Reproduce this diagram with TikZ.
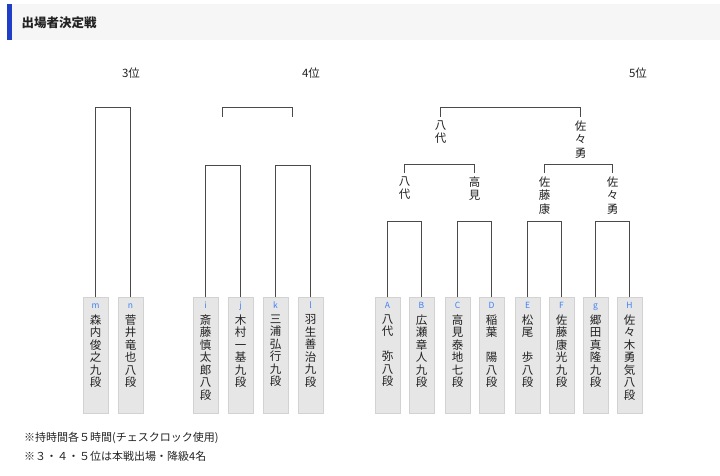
\documentclass[tikz,border=0pt]{standalone}
\usepackage{fontspec}
\setmainfont{Noto Sans CJK JP}
\usetikzlibrary{positioning}
\definecolor{headgray}{HTML}{F6F6F6}
\definecolor{headblue}{HTML}{1E3EC8}
\definecolor{boxgray}{HTML}{E6E6E6}
\definecolor{boxline}{HTML}{D2D2D2}
\definecolor{tagblue}{HTML}{3F80F5}
\definecolor{linegray}{HTML}{4A4A4A}
\definecolor{inkgray}{HTML}{222222}
\tikzset{
  pbox/.style={draw=boxline,fill=boxgray,minimum width=25pt,minimum height=116pt,
    inner sep=0pt,outer sep=0pt},
  ptag/.style={anchor=base,inner sep=0pt,text=tagblue,font=\fontsize{8.5}{9}\selectfont},
  pname/.style={anchor=north,inner sep=0pt,align=center,text=inkgray,
    font=\fontsize{11.5}{12.5}\selectfont},
  winner/.style={anchor=north,inner xsep=0pt,inner ysep=3.5pt,align=center,
    text=inkgray,font=\fontsize{11.5}{13.5}\selectfont},
  rank/.style={inner sep=0pt,text=inkgray,font=\fontsize{11.5}{13}\selectfont},
  note/.style={anchor=west,inner sep=0pt,text=inkgray,font=\fontsize{11}{13}\selectfont},
  bracket/.style={draw=linegray,line width=1.25pt}
}

\begin{document}
\begin{tikzpicture}[x=1pt,y=-1pt]
  \useasboundingbox (0,0) rectangle (720,476);
  % Header
  \fill[headgray] (7,4) rectangle (720,40.5);
  \fill[headblue] (7,4) rectangle (11.5,40.5);
  \node[anchor=west,inner sep=0pt,text=inkgray,font=\bfseries\fontsize{12.5}{14}\selectfont] (title) at (21.5,22.5) {出場者決定戦};
  % Ranks
  \node[rank] (r3) at (131,73) {3位};
  \node[rank] (r4) at (311,73) {4位};
  \node[rank] (r5) at (638,73) {5位};
  % 3rd place
  \node[pbox] (m) at (95.5,355) {};
  \node[pbox] (n) at (130.5,355) {};
  \node[ptag] at (95.5,308.5) {m};
  \node[ptag] at (130.5,308.5) {n};
  \node[pname,below=17.5pt of m.north] {森\\内\\俊\\之\\九\\段};
  \node[pname,below=17.5pt of n.north] {菅\\井\\竜\\也\\八\\段};
  \draw[bracket] (m.north) |- (n.north |- 0,107.5) -- (n.north);
  % 4th place
  \node[pbox] (i) at (205.5,355) {};
  \node[pbox] (j) at (240.5,355) {};
  \node[pbox] (k) at (275.5,355) {};
  \node[pbox] (l) at (310.5,355) {};
  \node[ptag] at (205.5,308.5) {i};
  \node[ptag] at (240.5,308.5) {j};
  \node[ptag] at (275.5,308.5) {k};
  \node[ptag] at (310.5,308.5) {l};
  \node[pname,below=17.5pt of i.north] {斎\\藤\\慎\\太\\郎\\八\\段};
  \node[pname,below=17.5pt of j.north] {木\\村\\一\\基\\九\\段};
  \node[pname,below=17.5pt of k.north] {三\\浦\\弘\\行\\九\\段};
  \node[pname,below=17.5pt of l.north] {羽\\生\\善\\治\\九\\段};
  \draw[bracket] (i.north) |- (j.north |- 0,165.5) -- (j.north);
  \draw[bracket] (k.north) |- (l.north |- 0,165.5) -- (l.north);
  \coordinate (w-ij) at (222.5,117);
  \coordinate (w-kl) at (292.5,117);
  \draw[bracket] (w-ij) |- (w-kl |- 0,107.5) -- (w-kl);
  % 5th place
  \node[pbox] (A) at (387.5,355) {};
  \node[pbox] (B) at (421.5,355) {};
  \node[pbox] (C) at (457.5,355) {};
  \node[pbox] (D) at (491.5,355) {};
  \node[pbox] (E) at (527.5,355) {};
  \node[pbox] (F) at (561.5,355) {};
  \node[pbox] (g) at (595.5,355) {};
  \node[pbox] (H) at (629.5,355) {};
  \node[ptag] at (387.5,308.5) {A};
  \node[ptag] at (421.5,308.5) {B};
  \node[ptag] at (457.5,308.5) {C};
  \node[ptag] at (491.5,308.5) {D};
  \node[ptag] at (527.5,308.5) {E};
  \node[ptag] at (561.5,308.5) {F};
  \node[ptag] at (595.5,308.5) {g};
  \node[ptag] at (629.5,308.5) {H};
  \node[pname,below=17.5pt of A.north] {八\\代\\　\\弥\\八\\段};
  \node[pname,below=17.5pt of B.north] {広\\瀬\\章\\人\\九\\段};
  \node[pname,below=17.5pt of C.north] {高\\見\\泰\\地\\七\\段};
  \node[pname,below=17.5pt of D.north] {稲\\葉\\　\\陽\\八\\段};
  \node[pname,below=17.5pt of E.north] {松\\尾\\　\\歩\\八\\段};
  \node[pname,below=17.5pt of F.north] {佐\\藤\\康\\光\\九\\段};
  \node[pname,below=17.5pt of g.north] {郷\\田\\真\\隆\\九\\段};
  \node[pname,below=17.5pt of H.north] {佐\\々\\木\\勇\\気\\八\\段};
  \draw[bracket] (A.north) |- (B.north |- 0,221.5) -- (B.north);
  \draw[bracket] (C.north) |- (D.north |- 0,221.5) -- (D.north);
  \draw[bracket] (E.north) |- (F.north |- 0,221.5) -- (F.north);
  \draw[bracket] (g.north) |- (H.north |- 0,221.5) -- (H.north);
  % Winners
  \node[winner] (w-ab) at (404.5,173) {八\\代};
  \node[winner] (w-cd) at (474.5,173) {高\\見};
  \node[winner] (w-ef) at (544.5,173) {佐\\藤\\康};
  \node[winner] (w-gh) at (612.5,173) {佐\\々\\勇};
  \draw[bracket] (w-ab.north) |- (w-cd.north |- 0,164.5) -- (w-cd.north);
  \draw[bracket] (w-ef.north) |- (w-gh.north |- 0,164.5) -- (w-gh.north);
  \node[winner] (w-ad) at (440.5,117) {八\\代};
  \node[winner] (w-eh) at (580.5,117) {佐\\々\\勇};
  \draw[bracket] (w-ad.north) |- (w-eh.north |- 0,107.5) -- (w-eh.north);
  % Notes
  \node[note] (note1) at (24,438) {※持時間各５時間(チェスクロック使用)};
  \node[note] (note2) at (24,456) {※３・４・５位は本戦出場・降級4名};
\end{tikzpicture}
\end{document}
